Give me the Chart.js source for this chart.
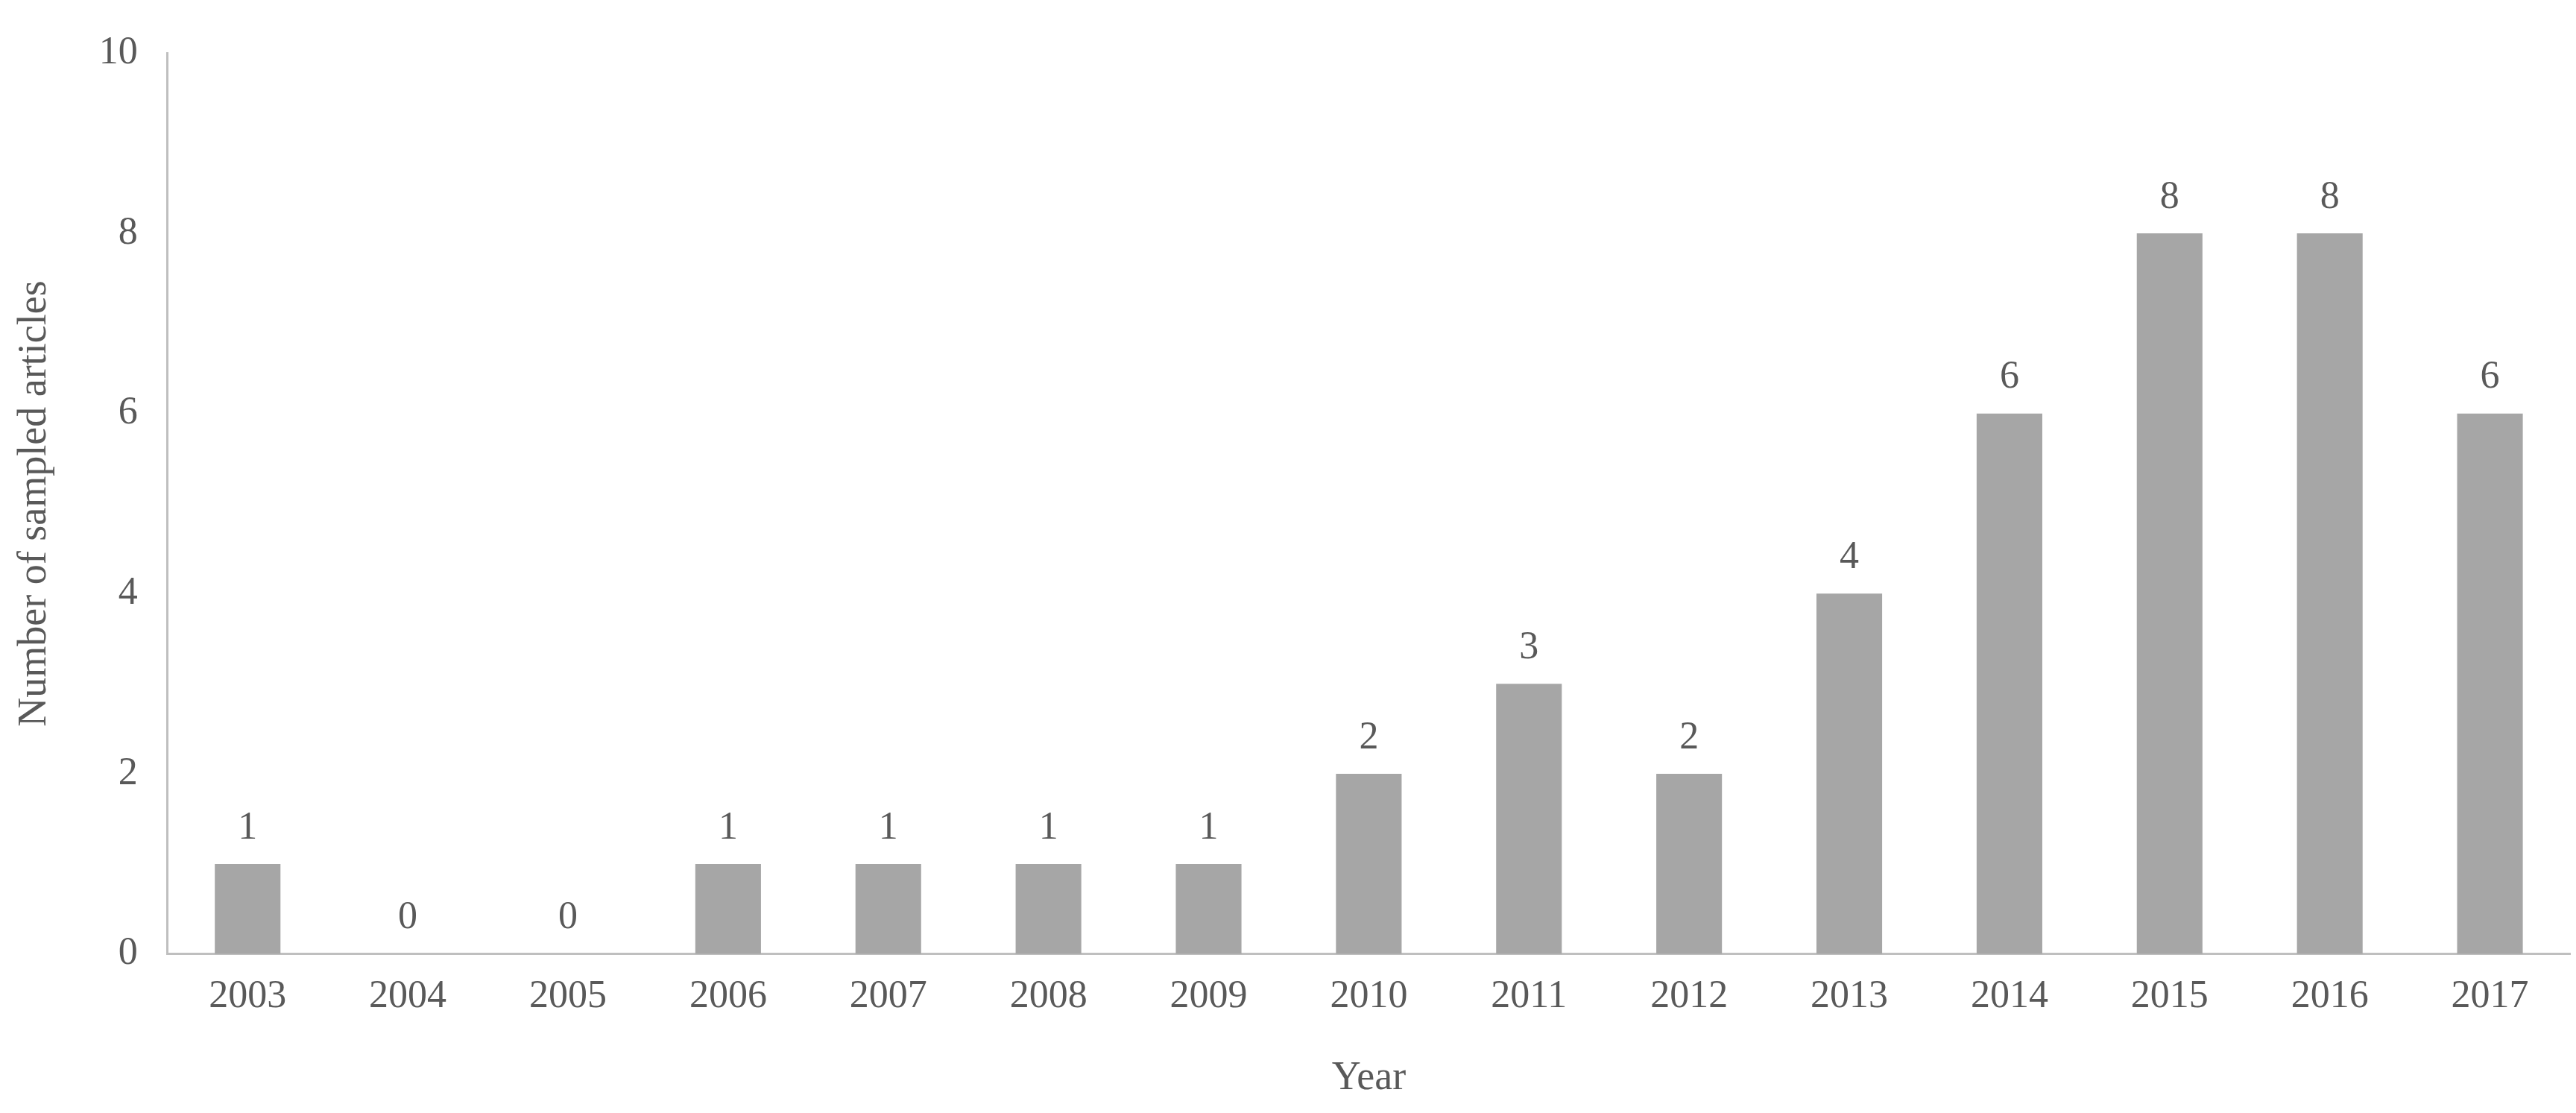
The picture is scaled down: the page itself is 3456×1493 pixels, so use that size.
<!DOCTYPE html>
<html>
<head>
<meta charset="utf-8">
<script src="https://cdn.jsdelivr.net/npm/chart.js@4"></script>
<style>
  html, body { margin: 0; padding: 0; background: #fff; }
  #wrap { width: 3456px; height: 1493px; }
</style>
</head>
<body>
<div id="wrap"><canvas id="myChart"></canvas></div>
<script>
const years = ['2003','2004','2005','2006','2007','2008','2009','2010','2011','2012','2013','2014','2015','2016','2017'];
const articles = [1, 0, 0, 1, 1, 1, 1, 2, 3, 2, 4, 6, 8, 8, 6];
const yTicks = [0, 2, 4, 6, 8, 10];

const textColor = '#595959';
const fontFamily = '"Liberation Serif", "DejaVu Serif", serif';

// draw the value above each bar
const valueLabels = {
    id: 'valueLabels',
    afterDatasetsDraw(chart) {
        const ctx = chart.ctx;
        const meta = chart.getDatasetMeta(0);
        ctx.save();
        ctx.fillStyle = textColor;
        ctx.font = '52px ' + fontFamily;
        ctx.textAlign = 'center';
        ctx.textBaseline = 'bottom';
        meta.data.forEach((bar, i) => {
            ctx.fillText(String(articles[i]), bar.x, bar.y - 22);
        });
        ctx.restore();
    }
};

new Chart(document.getElementById('myChart').getContext('2d'), {
    type: 'bar',
    data: {
        labels: years,
        datasets: [{
            label: 'Number of sampled articles',
            data: articles,
            backgroundColor: '#a6a6a6',
            barPercentage: 0.41,
            categoryPercentage: 1
        }]
    },
    options: {
        responsive: true,
        maintainAspectRatio: false,
        animation: false,
        layout: { padding: { top: 30, right: 8, bottom: 10, left: 10 } },
        plugins: {
            legend: { display: false },
            tooltip: { enabled: false }
        },
        scales: {
            x: {
                grid: { display: false, drawTicks: false },
                border: { color: '#bfbfbf', width: 3 },
                ticks: { color: textColor, font: { family: fontFamily, size: 52 }, padding: 26 },
                title: { display: true, text: 'Year', color: textColor, font: { family: fontFamily, size: 54 }, padding: { top: 20 } }
            },
            y: {
                min: 0,
                max: 10,
                afterBuildTicks: axis => { axis.ticks = yTicks.map(v => ({ value: v })); },
                grid: { display: false, drawTicks: false },
                border: { color: '#bfbfbf', width: 3 },
                ticks: { color: textColor, font: { family: fontFamily, size: 52 }, padding: 40 },
                title: { display: true, text: 'Number of sampled articles', color: textColor, font: { family: fontFamily, size: 54 }, padding: { bottom: 14 } }
            }
        }
    },
    plugins: [valueLabels]
});
</script>
</body>
</html>
